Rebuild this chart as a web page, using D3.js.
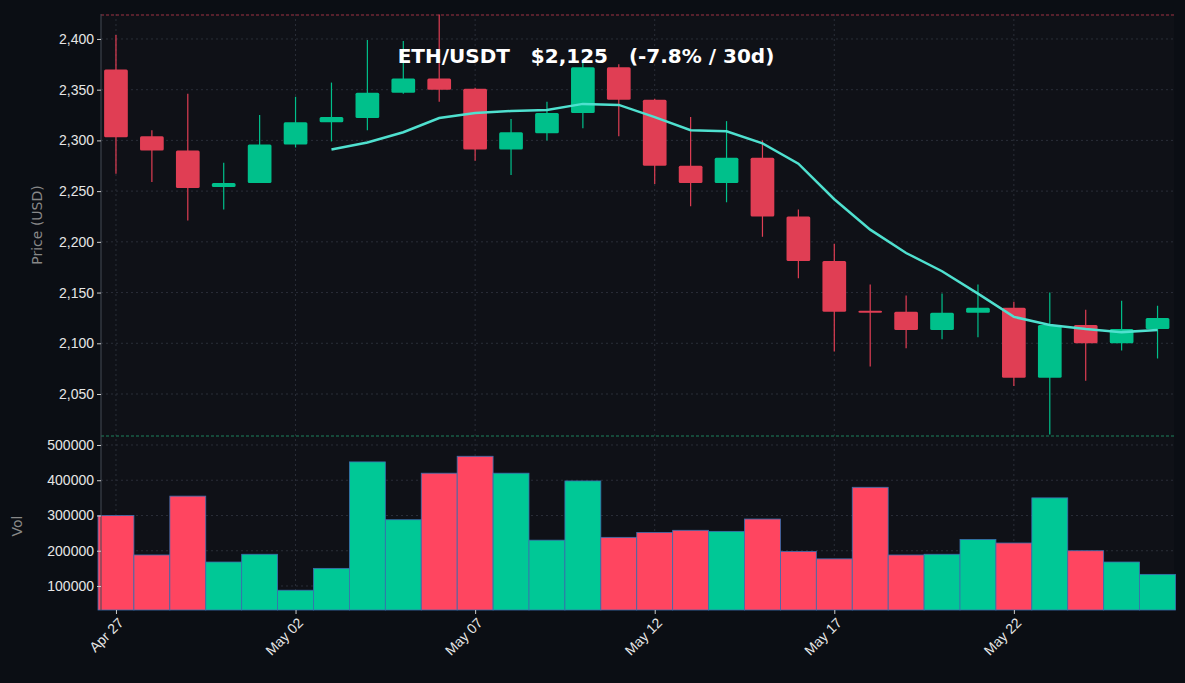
<!DOCTYPE html>
<html><head><meta charset="utf-8">
<script src="https://cdn.jsdelivr.net/npm/d3@7"></script>
<style>body{margin:0;background:#0b0e14;}svg{display:block;font-family:"DejaVu Sans",sans-serif;}</style>
</head><body><svg id="c" width="1185" height="683"></svg>
<script>
// daily candles, Apr 27 .. May 26
const opens  = [2370,2304,2290,2254,2258,2296,2318,2322,2347,2361,2351,2291,2307,2327,2372,2340,2275,2258,2283,2225,2181,2132,2131,2113,2130,2135,2066,2118,2100,2114];
const closes = [2303,2290,2253,2258,2296,2318,2323,2347,2361,2350,2291,2308,2327,2372,2340,2275,2258,2283,2225,2181,2131,2131,2113,2130,2135,2066,2118,2100,2114,2125];
const highs  = [2404,2310,2346,2278,2325,2343,2357,2399,2398,2424,2352,2321,2338,2378,2375,2341,2323,2319,2300,2232,2198,2158,2147,2149,2158,2141,2150,2133,2142,2137];
const lows   = [2267,2259,2221,2232,2258,2293,2299,2310,2346,2338,2280,2266,2300,2312,2304,2257,2235,2239,2205,2164,2092,2077,2095,2104,2106,2058,2010,2063,2093,2085];
const ma7    = [null,null,null,null,null,null,2291,2298,2308,2322,2327,2329,2330,2336,2335,2323,2310,2309,2297,2277,2242,2212,2189,2171,2149,2126,2118,2114,2111,2113];
const volumes= [300000,188000,355000,168000,190000,88000,150000,452000,288000,420000,468000,420000,230000,398000,238000,252000,258000,255000,290000,198000,177000,380000,188000,190000,232000,222000,350000,200000,168000,133000];
const priceTicks = [2050,2100,2150,2200,2250,2300,2350,2400];
const volTicks = [100000,200000,300000,400000,500000];

const start = new Date(2025,3,27);
const dates = opens.map((d,i) => d3.timeDay.offset(start,i));
const svg = d3.select('#c');
const L = 101, R = 1174, pT = 14, pB = 436, vT = 436, vB = 610;
const red = '#e03e54', green = '#00c08b';

const x = d3.scaleTime().domain([d3.timeHour.offset(start,-10), d3.timeHour.offset(dates[29],11)]).range([L,R]);
const y = d3.scaleLinear().domain([2008.6,2424.6]).range([pB,pT]);
const yv = d3.scaleLinear().domain([31900,525500]).range([vB,vT]);
const day = x(dates[1]) - x(dates[0]);

svg.append('rect').attr('x',L).attr('y',pT).attr('width',R-L).attr('height',vB-pT).attr('fill','#0f1117');

// grid
const xt = dates.filter((d,i) => i%5===0);
const g = svg.append('g').attr('stroke','#2a2e38').attr('stroke-dasharray','2,3');
g.selectAll('.gx').data(xt).join('line').attr('x1',d=>x(d)).attr('x2',d=>x(d)).attr('y1',pT).attr('y2',vB);
g.selectAll('.gy').data(priceTicks).join('line').attr('x1',L).attr('x2',R).attr('y1',d=>y(d)).attr('y2',d=>y(d));
g.selectAll('.gv').data(volTicks).join('line').attr('x1',L).attr('x2',R).attr('y1',d=>yv(d)).attr('y2',d=>yv(d));

// candles
const c = svg.append('g');
c.selectAll('line').data(opens).join('line')
  .attr('x1',(d,i)=>x(dates[i])).attr('x2',(d,i)=>x(dates[i]))
  .attr('y1',(d,i)=>y(highs[i])).attr('y2',(d,i)=>y(lows[i]))
  .attr('stroke',(d,i)=>closes[i]>=d?green:red).attr('stroke-width',1.2);
c.selectAll('rect').data(opens).join('rect')
  .attr('x',(d,i)=>x(dates[i])-day*0.33).attr('width',day*0.66)
  .attr('y',(d,i)=>y(Math.max(d,closes[i])))
  .attr('height',(d,i)=>Math.max(2,Math.abs(y(d)-y(closes[i]))))
  .attr('rx',1.5)
  .attr('fill',(d,i)=>closes[i]>=d?green:red);

// MA line
svg.append('path').datum(ma7.map((v,i)=>[dates[i],v]).filter(d=>d[1]!==null))
  .attr('fill','none').attr('stroke','#4fe0cf').attr('stroke-width',2.5)
  .attr('d',d3.line().x(d=>x(d[0])).y(d=>y(d[1])));

// volume
svg.append('g').selectAll('rect').data(volumes).join('rect')
  .attr('x',(d,i)=>x(dates[i])-day/2).attr('width',day)
  .attr('y',d=>yv(d)).attr('height',d=>vB-yv(d))
  .attr('fill',(d,i)=>closes[i]>=opens[i]?'#00c896':'#ff4560')
  .attr('stroke','#3b6fb0').attr('stroke-width',0.8);

// reference lines
svg.append('line').attr('x1',L).attr('x2',R).attr('y1',15).attr('y2',15).attr('stroke','#c0394f').attr('stroke-dasharray','3,2').attr('stroke-width',0.8);
svg.append('line').attr('x1',L).attr('x2',R).attr('y1',pB).attr('y2',pB).attr('stroke','#1f9e6e').attr('stroke-dasharray','3,2').attr('stroke-width',0.8);
svg.append('line').attr('x1',L).attr('x2',L).attr('y1',pT).attr('y2',vB).attr('stroke','#444a55');

// axes
const styleAxis = s => { s.select('.domain').remove(); s.selectAll('line').attr('stroke','#ccc'); s.selectAll('text').attr('fill','#e6e6e6').style('font-size','14px'); };
svg.append('g').attr('transform',`translate(${L},0)`).call(d3.axisLeft(y).tickValues(priceTicks).tickSize(4)).call(styleAxis);
svg.append('g').attr('transform',`translate(${L},0)`).call(d3.axisLeft(yv).tickValues(volTicks).tickSize(4).tickFormat(d3.format('d'))).call(styleAxis);
const xa = svg.append('g').attr('transform',`translate(0,${vB})`).call(d3.axisBottom(x).tickValues(xt).tickSize(4).tickFormat(d3.timeFormat('%b %d'))).call(styleAxis);
xa.selectAll('text').attr('text-anchor','end').attr('dx','-0.3em').attr('dy','0.6em').attr('transform','rotate(-45)');

svg.append('text').attr('transform','translate(42,225) rotate(-90)').attr('text-anchor','middle').attr('fill','#888').style('font-size','14px').text('Price (USD)');
svg.append('text').attr('transform','translate(22,526) rotate(-90)').attr('text-anchor','middle').attr('fill','#888').style('font-size','14px').text('Vol');
svg.append('text').attr('x',586).attr('y',63).attr('text-anchor','middle').attr('fill','#fff').style('font-size','20px').style('font-weight','bold').attr('xml:space','preserve').style('white-space','pre').text('ETH/USDT   $2,125   (-7.8% / 30d)');
</script></body></html>
